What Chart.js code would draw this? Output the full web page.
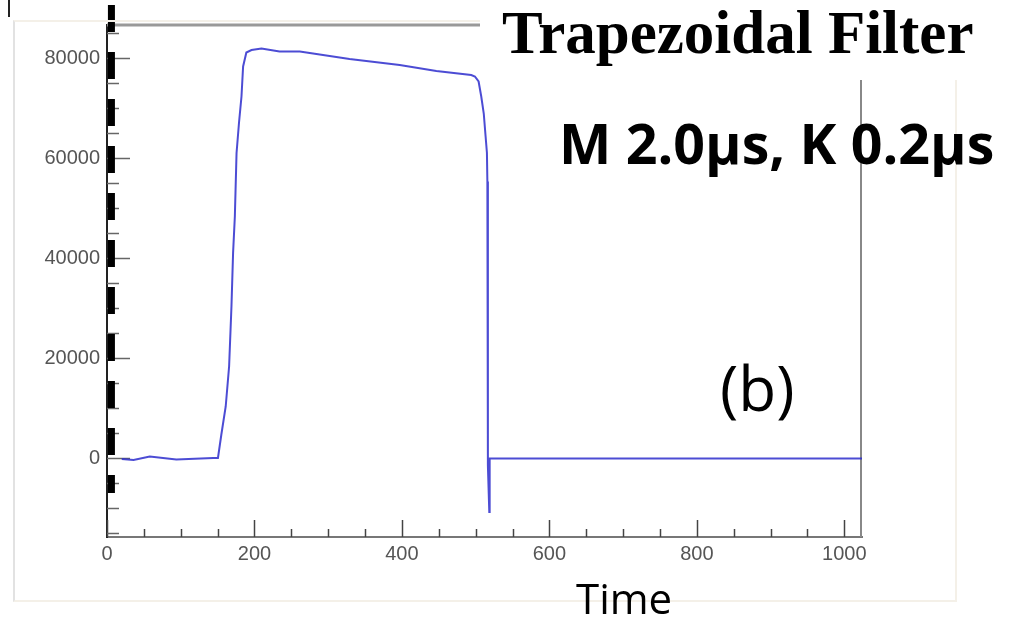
<!DOCTYPE html>
<html lang="en">
<head>
  <meta charset="UTF-8" />
  <title>Trapezoidal Filter</title>
  <script src="https://cdn.jsdelivr.net/npm/chart.js"></script>
  <style>
    body { margin: 0; background: #fff; }
    #wrap { position: relative; width: 1012px; height: 619px; overflow: hidden; }
    #outer { position: absolute; left: 13px; top: 20px; width: 944px; height: 582px;
             border-left: 2px solid #e2e2e2; border-bottom: 2px solid #f4f0e8;
             border-right: 2px solid #f4f0e8; border-top: 2px solid #f4f0e8; box-sizing: border-box; }
    #mark { position: absolute; left: 8px; top: 0; width: 2px; height: 17px; background: #222; }
    #titleBox { position: absolute; left: 480px; top: 0; width: 532px; height: 80px; background: #fff; }
    .txt { position: absolute; white-space: nowrap; color: #000; }
    #title { left: 502px; top: 2px; font: bold 61px/61px "Liberation Serif", serif; }
    #params { left: 559px; top: 115px; font: bold 55.5px/55.5px "Open Sans", sans-serif; }
    #label { left: 720px; top: 356px; font: 62px/62px "Open Sans", sans-serif; }
    #xtitle { left: 576px; top: 577px; font: 42px/42px "Open Sans", sans-serif; }
  </style>
</head>
<body>
<div id="wrap">
  <div id="outer"></div>
  <div id="mark"></div>
  <canvas id="chart" width="1012" height="619"></canvas>
  <div id="titleBox"></div>
  <div class="txt" id="title">Trapezoidal Filter</div>
  <div class="txt" id="params">M 2.0μs, K 0.2μs</div>
  <div class="txt" id="label">(b)</div>
  <div class="txt" id="xtitle">Time</div>
</div>
<script>
  // signal
  const time = [20, 36, 58, 94, 144, 150.5, 155, 161, 165.6, 168.8, 171, 173.4, 175.7, 179, 182.4, 184.6,
    189, 196, 209.5, 234, 261.5, 329, 397, 446.7, 494, 499, 504, 507.6, 511, 513.5, 515.3, 515.9,
    516.6, 518.5, 519, 1024];
  const amplitude = [-200, -400, 300, -300, 0, 0, 4600, 10300, 18300, 30300, 41000, 48300, 61000, 67000, 72300, 78300,
    81100, 81600, 81900, 81300, 81300, 79800, 78600, 77400, 76600, 76300, 75300, 72300, 68900, 64300, 61000, 55300,
    -1500, -10800, -100, -100];

  // dashed black overlay on the left axis
  const dashX = [6, 6];
  const dashY = [90600, -7000];

  const xTicks = [0, 200, 400, 600, 800, 1000];
  const yTicks = [0, 20000, 40000, 60000, 80000];
  const xRange = [0, 1024];
  const yRange = [-15800, 86600];

  const xMinor = [];
  for (let v = 0; v <= 1000; v += 50) xMinor.push(v);
  const yMinor = [];
  for (let v = -15000; v <= 85000; v += 5000) yMinor.push(v);

  const frameTicks = {
    id: "frameTicks",
    beforeDatasetsDraw(chart) {
      const { ctx, chartArea: a, scales: { x, y } } = chart;
      ctx.save();
      // top and right frame
      ctx.strokeStyle = "#999";
      ctx.lineWidth = 3;
      ctx.beginPath();
      ctx.moveTo(a.left, a.top);
      ctx.lineTo(a.right, a.top);
      ctx.stroke();
      ctx.strokeStyle = "#888";
      ctx.lineWidth = 2;
      ctx.beginPath();
      ctx.moveTo(a.right - 1, a.top);
      ctx.lineTo(a.right - 1, a.bottom);
      ctx.stroke();
      // inward ticks
      ctx.lineWidth = 1.5;
      ctx.strokeStyle = "#444";
      xMinor.forEach(v => {
        const px = Math.round(x.getPixelForValue(v)) + 0.5;
        const len = v % 200 === 0 ? 17 : 8;
        ctx.beginPath();
        ctx.moveTo(px, a.bottom);
        ctx.lineTo(px, a.bottom - len);
        ctx.stroke();
      });
      ctx.strokeStyle = "#666";
      yMinor.forEach(v => {
        const py = Math.round(y.getPixelForValue(v)) + 0.5;
        const len = v % 20000 === 0 ? 23 : 12;
        ctx.beginPath();
        ctx.moveTo(a.left, py);
        ctx.lineTo(a.left + len, py);
        ctx.stroke();
      });
      ctx.restore();
    }
  };

  new Chart(document.getElementById("chart"), {
    type: "line",
    data: {
      datasets: [{
        data: time.map((t, i) => ({ x: t, y: amplitude[i] })),
        borderColor: "rgba(45, 45, 205, 0.85)",
        borderWidth: 2,
        pointRadius: 0,
        tension: 0
      }, {
        data: dashX.map((t, i) => ({ x: t, y: dashY[i] })),
        borderColor: "#000",
        borderWidth: 7,
        borderDash: [27, 20],
        borderCapStyle: "butt",
        pointRadius: 0,
        clip: false
      }]
    },
    options: {
      responsive: false,
      animation: false,
      layout: { padding: { left: 0, top: 25, right: 150, bottom: 0 } },
      plugins: { legend: { display: false }, tooltip: { enabled: false } },
      scales: {
        x: {
          type: "linear",
          min: xRange[0],
          max: xRange[1],
          afterBuildTicks: s => { s.ticks = xTicks.map(v => ({ value: v })); },
          afterFit: s => { s.height = 82; },
          grid: { display: false, drawTicks: false },
          border: { display: true, color: "#777", width: 2 },
          ticks: { padding: 5, color: "#555", font: { family: "Liberation Sans", size: 20 }, maxRotation: 0,
                   callback: v => String(v) }
        },
        y: {
          type: "linear",
          min: yRange[0],
          max: yRange[1],
          afterBuildTicks: s => { s.ticks = yTicks.map(v => ({ value: v })); },
          afterFit: s => { s.width = 107; },
          grid: { display: false, drawTicks: false },
          border: { display: true, color: "#222", width: 2 },
          ticks: { padding: 7, color: "#555", font: { family: "Liberation Sans", size: 20 },
                   callback: v => String(v) }
        }
      }
    },
    plugins: [frameTicks]
  });
</script>
</body>
</html>
